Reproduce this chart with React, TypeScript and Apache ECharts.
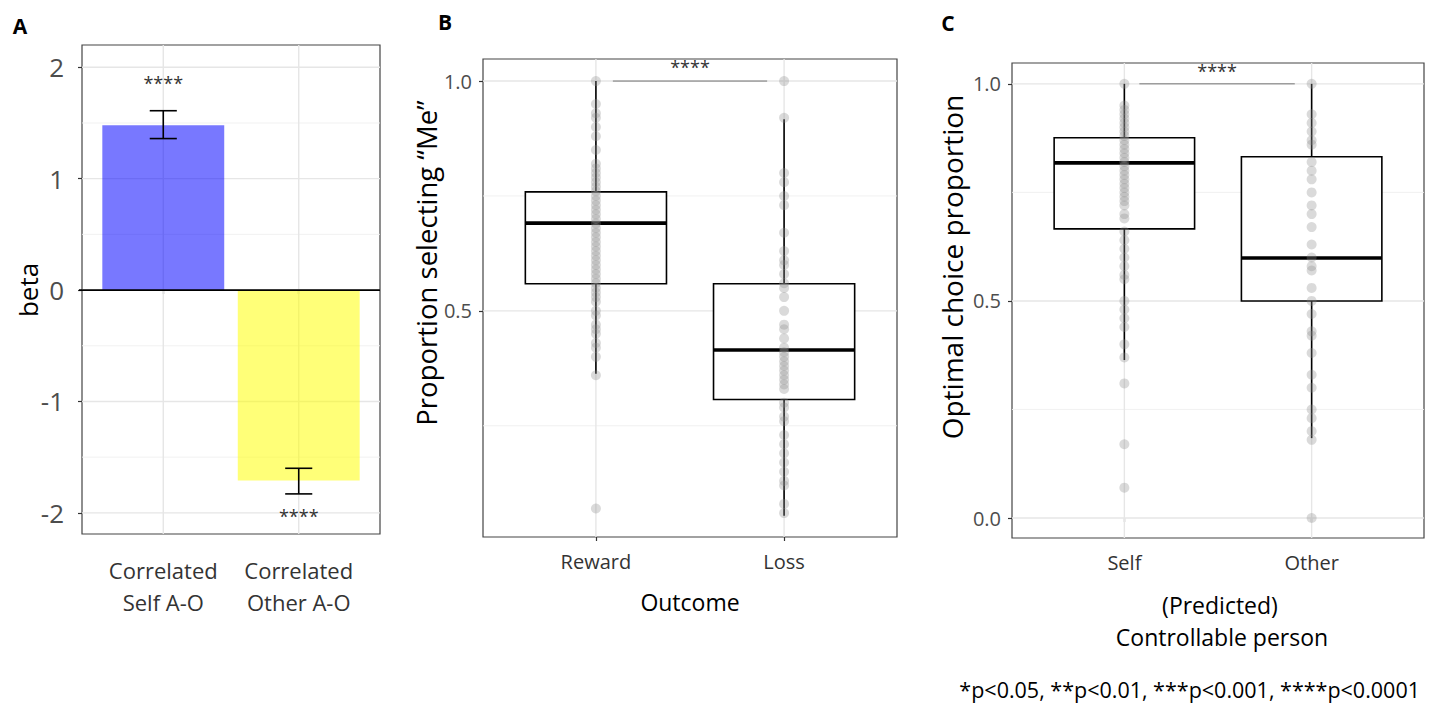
import React, { useEffect, useRef } from "react";
import * as echarts from "echarts";

// ---------- Panel A data ----------
const betaCategories = ["Correlated\nSelf A-O", "Correlated\nOther A-O"];
const betaValues = [1.48, -1.71];
const betaErrLow = [1.36, -1.83];
const betaErrHigh = [1.61, -1.6];
const betaStarY = [1.86, -2.03];
const betaColors = ["rgba(0,0,255,0.53)", "rgba(255,255,0,0.53)"];
const betaTicks = [-2, -1, 0, 1, 2];
const betaMinor = [-1.5, -0.5, 0.5, 1.5];

// ---------- Panel B data ----------
const outcomeCategories = ["Reward", "Loss"];
// [lower whisker, Q1, median, Q3, upper whisker]
const rewardBox = [0.363, 0.559, 0.691, 0.759, 1.0];
const lossBox = [0.054, 0.307, 0.415, 0.559, 0.917];
const rewardPoints = [
  1.0, 0.95, 0.93, 0.92, 0.9, 0.88, 0.85, 0.82, 0.81, 0.8, 0.79, 0.78, 0.77, 0.76,
  0.75, 0.74, 0.73, 0.72, 0.71, 0.7, 0.69, 0.68, 0.67, 0.66, 0.65, 0.64, 0.63, 0.62,
  0.61, 0.6, 0.59, 0.58, 0.57, 0.56, 0.55, 0.54, 0.53, 0.52, 0.5, 0.49, 0.47, 0.46,
  0.45, 0.43, 0.42, 0.4, 0.36, 0.07,
];
const lossPoints = [
  1.0, 0.92, 0.8, 0.78, 0.75, 0.73, 0.67, 0.63, 0.61, 0.6, 0.58, 0.56, 0.55, 0.53,
  0.5, 0.47, 0.46, 0.44, 0.42, 0.41, 0.4, 0.39, 0.38, 0.37, 0.36, 0.35, 0.34, 0.33,
  0.3, 0.29, 0.27, 0.26, 0.23, 0.21, 0.19, 0.17, 0.15, 0.13, 0.12, 0.08, 0.06,
];
const outcomeTicks = [0.5, 1.0];
const outcomeMinor = [0.25, 0.75];

// ---------- Panel C data ----------
const personCategories = ["Self", "Other"];
const selfBox = [0.364, 0.666, 0.818, 0.876, 1.0];
const otherBox = [0.184, 0.5, 0.599, 0.832, 1.0];
const selfPoints = [
  1.0, 0.95, 0.94, 0.93, 0.92, 0.91, 0.9, 0.89, 0.88, 0.87, 0.86, 0.85, 0.84, 0.83,
  0.82, 0.81, 0.8, 0.79, 0.78, 0.77, 0.76, 0.75, 0.74, 0.73, 0.72, 0.7, 0.69, 0.66,
  0.64, 0.62, 0.6, 0.58, 0.56, 0.55, 0.5, 0.48, 0.46, 0.44, 0.4, 0.37, 0.31, 0.17, 0.07,
];
const otherPoints = [
  1.0, 0.93, 0.91, 0.89, 0.87, 0.86, 0.82, 0.8, 0.78, 0.75, 0.72, 0.7, 0.67, 0.63,
  0.6, 0.58, 0.57, 0.53, 0.5, 0.47, 0.43, 0.42, 0.38, 0.33, 0.3, 0.25, 0.23, 0.2, 0.18, 0.0,
];
const personTicks = [0, 0.5, 1.0];
const personMinor = [0.25, 0.75];

// significance bracket: [x start, x end, line y, star y]
const outcomeBracket = [1.09, 1.91, 1.0, 1.03];
const personBracket = [1.08, 1.91, 1.0, 1.03];

const FONT = "'Open Sans', 'Noto Sans', sans-serif";

function hGrid(gi: number, majors: number[], minors: number[]) {
  const data = [
    ...majors.map((v) => [1, v, 1]),
    ...minors.map((v) => [1, v, 0]),
  ];
  return {
    type: "custom",
    xAxisIndex: gi,
    yAxisIndex: gi,
    z: 1,
    silent: true,
    data,
    encode: { x: 0, y: 1 },
    renderItem: (params: any, api: any) => {
      const cs = params.coordSys;
      const y = api.coord([1, api.value(1)])[1];
      const major = api.value(2) === 1;
      return {
        type: "line",
        shape: { x1: cs.x, y1: y, x2: cs.x + cs.width, y2: y },
        style: { stroke: major ? "#e6e6e6" : "#efefef", lineWidth: major ? 1.4 : 0.9 },
      };
    },
  };
}

function vGrid(gi: number, positions: number[], yAnchor: number) {
  return {
    type: "custom",
    xAxisIndex: gi,
    yAxisIndex: gi,
    z: 1,
    silent: true,
    data: positions.map((p) => [p, yAnchor]),
    encode: { x: 0, y: 1 },
    renderItem: (params: any, api: any) => {
      const cs = params.coordSys;
      const x = api.coord([api.value(0), yAnchor])[0];
      return {
        type: "line",
        shape: { x1: x, y1: cs.y, x2: x, y2: cs.y + cs.height },
        style: { stroke: "#e6e6e6", lineWidth: 1.4 },
      };
    },
  };
}

function boxSeries(gi: number, boxes: number[][]) {
  return {
    type: "custom",
    xAxisIndex: gi,
    yAxisIndex: gi,
    z: 3,
    silent: true,
    data: boxes.map((b, i) => [i + 1, ...b]),
    encode: { x: 0, y: [1, 2, 3, 4, 5] },
    renderItem: (params: any, api: any) => {
      const x = api.value(0);
      const lo = api.coord([x, api.value(1)]);
      const q1 = api.coord([x, api.value(2)]);
      const med = api.coord([x, api.value(3)]);
      const q3 = api.coord([x, api.value(4)]);
      const hi = api.coord([x, api.value(5)]);
      const half = api.size([0.375, 0])[0];
      const cx = lo[0];
      const stroke = { stroke: "#000", lineWidth: 1.6 };
      return {
        type: "group",
        children: [
          { type: "line", shape: { x1: cx, y1: lo[1], x2: cx, y2: q1[1] }, style: stroke },
          { type: "line", shape: { x1: cx, y1: q3[1], x2: cx, y2: hi[1] }, style: stroke },
          {
            type: "rect",
            shape: { x: cx - half, y: q3[1], width: half * 2, height: q1[1] - q3[1] },
            style: { fill: "#fff", stroke: "#000", lineWidth: 1.6 },
          },
          {
            type: "line",
            shape: { x1: cx - half, y1: med[1], x2: cx + half, y2: med[1] },
            style: { stroke: "#000", lineWidth: 3.6 },
          },
        ],
      };
    },
  };
}

function pointSeries(gi: number, x: number, pts: number[]) {
  return {
    type: "scatter",
    xAxisIndex: gi,
    yAxisIndex: gi,
    z: 4,
    silent: true,
    symbolSize: 10,
    itemStyle: { color: "rgba(140,140,140,0.4)" },
    data: pts.map((v) => [x, v]),
  };
}

function bracketSeries(gi: number, br: number[]) {
  return {
    type: "custom",
    xAxisIndex: gi,
    yAxisIndex: gi,
    z: 5,
    silent: true,
    data: [br],
    encode: { x: [0, 1], y: [2, 3] },
    renderItem: (params: any, api: any) => {
      const a = api.coord([api.value(0), api.value(2)]);
      const b = api.coord([api.value(1), api.value(2)]);
      const s = api.coord([(api.value(0) + api.value(1)) / 2, api.value(3)]);
      return {
        type: "group",
        children: [
          {
            type: "line",
            shape: { x1: a[0], y1: a[1], x2: b[0], y2: b[1] },
            style: { stroke: "#777", lineWidth: 1 },
          },
          {
            type: "text",
            x: s[0],
            y: s[1],
            style: {
              text: "****",
              fill: "#333",
              font: `18px ${FONT}`,
              align: "center",
              verticalAlign: "middle",
            },
          },
        ],
      };
    },
  };
}

function xAxisCfg(gi: number, cats: string[], labelSize: number, margin: number, lineHeight?: number) {
  return {
    gridIndex: gi,
    type: "value",
    min: 0.4,
    max: 2.6,
    axisLine: { show: false },
    splitLine: { show: false },
    axisTick: { show: true, customValues: [1, 2], length: 4, lineStyle: { color: "#333", width: 1.2 } },
    axisLabel: {
      customValues: [1, 2],
      formatter: (v: number) => cats[Math.round(v) - 1] ?? "",
      fontSize: labelSize,
      lineHeight: lineHeight,
      color: "#333",
      margin,
      fontFamily: FONT,
    },
  };
}

function yAxisCfg(gi: number, min: number, max: number, ticks: number[], size: number, margin: number, fmt: (v: number) => string) {
  return {
    gridIndex: gi,
    type: "value",
    min,
    max,
    axisLine: { show: false },
    splitLine: { show: false },
    axisTick: { show: true, customValues: ticks, length: 4, lineStyle: { color: "#333", width: 1.2 } },
    axisLabel: {
      customValues: ticks,
      formatter: fmt,
      fontSize: size,
      color: "#4d4d4d",
      margin,
      fontFamily: FONT,
    },
  };
}

export default function App() {
  const ref = useRef<HTMLDivElement>(null);

  useEffect(() => {
    if (!ref.current) return;
    const chart = echarts.init(ref.current, undefined, { renderer: "svg" });

    const gridBorder = { show: true, borderColor: "#444", borderWidth: 1.2, backgroundColor: "transparent" };

    const option: any = {
      animation: false,
      backgroundColor: "#fff",
      textStyle: { fontFamily: FONT },
      grid: [
        { left: 82, top: 45, width: 298, height: 489, ...gridBorder },
        { left: 483, top: 59, width: 414, height: 478, ...gridBorder },
        { left: 1012, top: 63, width: 412, height: 475, ...gridBorder },
      ],
      xAxis: [
        xAxisCfg(0, betaCategories, 22, 20, 32),
        xAxisCfg(1, outcomeCategories, 20, 14),
        xAxisCfg(2, personCategories, 20, 14),
      ],
      yAxis: [
        yAxisCfg(0, -2.19, 2.2, betaTicks, 26, 18, (v) => String(Math.round(v))),
        yAxisCfg(1, 0.008, 1.048, outcomeTicks, 20, 11, (v) => v.toFixed(1)),
        yAxisCfg(2, -0.046, 1.048, personTicks, 20, 11, (v) => v.toFixed(1)),
      ],
      series: [
        // ---- Panel A ----
        hGrid(0, betaTicks, betaMinor),
        vGrid(0, [1, 2], 0),
        {
          type: "custom",
          xAxisIndex: 0,
          yAxisIndex: 0,
          z: 2,
          silent: true,
          data: betaValues.map((v, i) => [i + 1, v]),
          encode: { x: 0, y: 1 },
          renderItem: (params: any, api: any) => {
            const x = api.value(0);
            const p0 = api.coord([x - 0.45, 0]);
            const p1 = api.coord([x + 0.45, api.value(1)]);
            return {
              type: "rect",
              shape: {
                x: Math.min(p0[0], p1[0]),
                y: Math.min(p0[1], p1[1]),
                width: Math.abs(p1[0] - p0[0]),
                height: Math.abs(p1[1] - p0[1]),
              },
              style: { fill: betaColors[params.dataIndex] },
            };
          },
        },
        {
          type: "custom",
          xAxisIndex: 0,
          yAxisIndex: 0,
          z: 3,
          silent: true,
          data: betaErrLow.map((lo, i) => [i + 1, lo, betaErrHigh[i]]),
          encode: { x: 0, y: [1, 2] },
          renderItem: (params: any, api: any) => {
            const x = api.value(0);
            const lo = api.coord([x, api.value(1)]);
            const hi = api.coord([x, api.value(2)]);
            const half = api.size([0.1, 0])[0];
            const st = { stroke: "#000", lineWidth: 1.6 };
            return {
              type: "group",
              children: [
                { type: "line", shape: { x1: lo[0], y1: lo[1], x2: hi[0], y2: hi[1] }, style: st },
                { type: "line", shape: { x1: lo[0] - half, y1: lo[1], x2: lo[0] + half, y2: lo[1] }, style: st },
                { type: "line", shape: { x1: hi[0] - half, y1: hi[1], x2: hi[0] + half, y2: hi[1] }, style: st },
              ],
            };
          },
        },
        {
          type: "custom",
          xAxisIndex: 0,
          yAxisIndex: 0,
          z: 4,
          silent: true,
          data: [[1, 0]],
          encode: { x: 0, y: 1 },
          renderItem: (params: any, api: any) => {
            const cs = params.coordSys;
            const y = api.coord([1, 0])[1];
            return {
              type: "line",
              shape: { x1: cs.x - 3, y1: y, x2: cs.x + cs.width, y2: y },
              style: { stroke: "#000", lineWidth: 1.8 },
            };
          },
        },
        {
          type: "custom",
          xAxisIndex: 0,
          yAxisIndex: 0,
          z: 5,
          silent: true,
          data: betaStarY.map((v, i) => [i + 1, v]),
          encode: { x: 0, y: 1 },
          renderItem: (params: any, api: any) => {
            const p = api.coord([api.value(0), api.value(1)]);
            return {
              type: "text",
              x: p[0],
              y: p[1],
              style: { text: "****", fill: "#333", font: `18px ${FONT}`, align: "center", verticalAlign: "middle" },
            };
          },
        },
        // ---- Panel B ----
        hGrid(1, outcomeTicks, outcomeMinor),
        vGrid(1, [1, 2], 0.5),
        boxSeries(1, [rewardBox, lossBox]),
        pointSeries(1, 1, rewardPoints),
        pointSeries(1, 2, lossPoints),
        bracketSeries(1, outcomeBracket),
        // ---- Panel C ----
        hGrid(2, personTicks, personMinor),
        vGrid(2, [1, 2], 0.5),
        boxSeries(2, [selfBox, otherBox]),
        pointSeries(2, 1, selfPoints),
        pointSeries(2, 2, otherPoints),
        bracketSeries(2, personBracket),
      ],
      graphic: [
        { type: "text", x: 20, y: 26, style: { text: "A", font: `bold 21px ${FONT}`, fill: "#000", align: "center", verticalAlign: "middle" } },
        { type: "text", x: 445, y: 22, style: { text: "B", font: `bold 21px ${FONT}`, fill: "#000", align: "center", verticalAlign: "middle" } },
        { type: "text", x: 948, y: 23, style: { text: "C", font: `bold 21px ${FONT}`, fill: "#000", align: "center", verticalAlign: "middle" } },
        { type: "text", x: 28, y: 290, rotation: Math.PI / 2, style: { text: "beta", font: `26px ${FONT}`, fill: "#000", align: "center", verticalAlign: "middle" } },
        { type: "text", x: 426, y: 263, rotation: Math.PI / 2, style: { text: "Proportion selecting \u201CMe\u201D", font: `27.5px ${FONT}`, fill: "#000", align: "center", verticalAlign: "middle" } },
        { type: "text", x: 952, y: 267, rotation: Math.PI / 2, style: { text: "Optimal choice proportion", font: `28px ${FONT}`, fill: "#000", align: "center", verticalAlign: "middle" } },
        { type: "text", x: 690, y: 602, style: { text: "Outcome", font: `23px ${FONT}`, fill: "#000", align: "center", verticalAlign: "middle" } },
        { type: "text", x: 1220, y: 605, style: { text: "(Predicted)", font: `23px ${FONT}`, fill: "#000", align: "center", verticalAlign: "middle" } },
        { type: "text", x: 1222, y: 637, style: { text: "Controllable person", font: `23px ${FONT}`, fill: "#000", align: "center", verticalAlign: "middle" } },
        { type: "text", x: 1420, y: 689, style: { text: "*p<0.05, **p<0.01, ***p<0.001, ****p<0.0001", font: `21.5px ${FONT}`, fill: "#000", align: "right", verticalAlign: "middle" } },
      ],
    };

    chart.setOption(option);
    return () => chart.dispose();
  }, []);

  return (
    <div
      ref={ref}
      style={{ position: "absolute", left: 0, top: 0, width: 1433, height: 704, background: "#fff" }}
    />
  );
}
